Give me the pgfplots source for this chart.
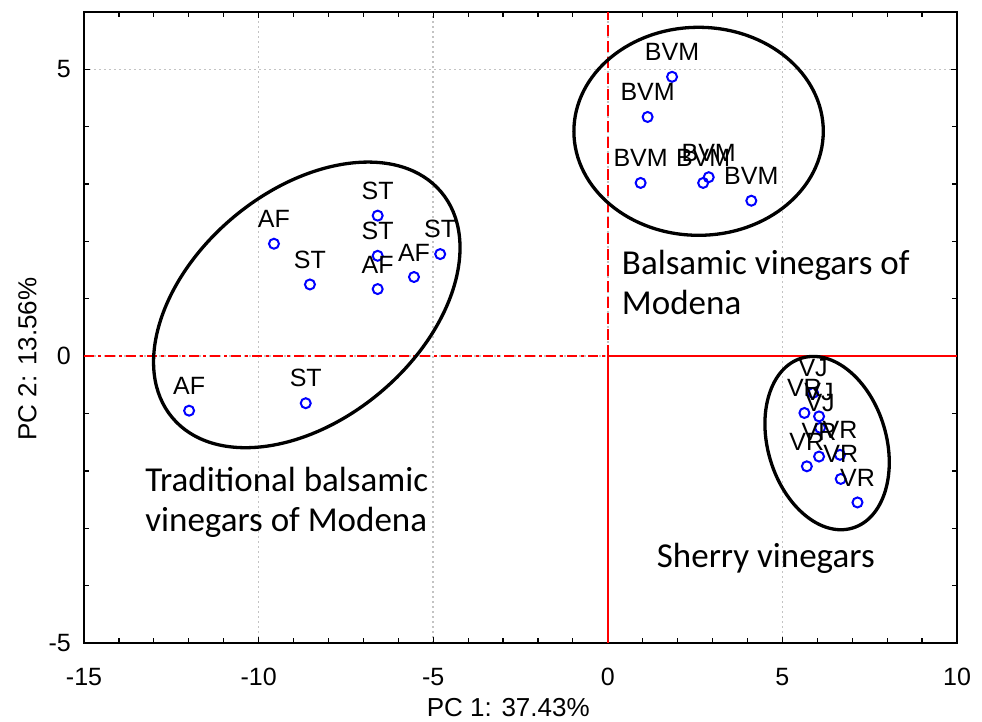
\documentclass[border=0pt]{standalone}
\usepackage{fontspec}
\setmainfont{Liberation Sans}
\newfontfamily\calib{Carlito}
\usepackage{pgfplots}
\pgfplotsset{compat=1.18}
\usepackage{pgfplotstable}
\definecolor{gridgray}{RGB}{195,195,195}
\pgfplotstableread{
x y label
-11.99 -0.95 AF
-8.65 -0.82 ST
-9.56 1.96 AF
-8.53 1.25 ST
-6.59 2.45 ST
-6.59 1.75 ST
-6.59 1.17 AF
-5.55 1.38 AF
-4.80 1.78 ST
1.84 4.87 BVM
1.14 4.17 BVM
0.94 3.02 BVM
2.73 3.02 BVM
2.89 3.12 BVM
4.11 2.71 BVM
5.88 -0.64 VJ
5.63 -0.99 VR
6.05 -1.05 VJ
6.08 -1.25 VJ
6.65 -1.72 VR
6.05 -1.75 VR
5.70 -1.92 VR
6.67 -2.14 VR
7.15 -2.55 VR
}\pts
\begin{document}
\begin{tikzpicture}
\begin{axis}[
  scale only axis, width=873pt, height=631pt,
  xmin=-15, xmax=10, ymin=-5, ymax=6,
  xtick={-15,-10,-5,0,5,10}, xticklabels={-15,-10,-5,0,5,10},
  ytick={-5,0,5}, yticklabels={-5,0,5},
  minor x tick num=4, minor y tick num=4,
  tick align=inside, major tick length=6pt, minor tick length=5pt,
  tick style={black, line width=1.2pt},
  axis line style={line width=2pt},
  grid=major, major grid style={gridgray, dash pattern=on 2pt off 3pt, line width=1.6pt},
  xticklabel style={font=\fontsize{25}{30}\selectfont, inner sep=0pt, anchor=north, yshift=-25pt},
  yticklabel style={font=\fontsize{25}{30}\selectfont, inner sep=0pt, anchor=east, xshift=-13pt},
  xlabel={PC 1: 37.43\%},
  xlabel style={at={(axis description cs:0.486,-0.0872)}, anchor=north, inner sep=0pt, font=\fontsize{26}{30}\selectfont},
  ylabel={PC 2: 13.56\%},
  ylabel style={at={(axis description cs:-0.0756,0.45)}, anchor=north, inner sep=0pt, font=\fontsize{26}{30}\selectfont},
]
\addplot[red, line width=2pt, dash pattern=on 11pt off 5pt] coordinates {(0,0) (0,6)};
\addplot[red, line width=2pt] coordinates {(0,-5) (0,0)};
\addplot[red, line width=2pt, dash pattern=on 10pt off 4pt on 3pt off 4pt] coordinates {(-15,0) (0,0)};
\addplot[red, line width=2pt] coordinates {(0,0) (10,0)};

\draw[black, line width=3.3pt, rotate around={40:(axis cs:-8.62,0.894)}] (axis cs:-8.62,0.894) ellipse [x radius=175.5pt, y radius=114.3pt];
\draw[black, line width=3.3pt] (axis cs:2.60,3.92) ellipse [x radius=124.7pt, y radius=104pt];
\draw[black, line width=3.3pt, rotate around={-73.3:(axis cs:6.28,-1.515)}] (axis cs:6.28,-1.515) ellipse [x radius=88.7pt, y radius=59.2pt];

\addplot[only marks, mark=o, mark size=5pt, blue, mark options={line width=2pt},
  nodes near coords, point meta=explicit symbolic,
  every node near coord/.append style={black, font=\fontsize{25}{30}\selectfont, anchor=south, inner sep=0pt, yshift=15pt}]
  table[x=x, y=y, meta=label] {\pts};

\node[anchor=base west, inner sep=0pt, font=\calib\fontsize{35}{42}\selectfont] at (axis cs:-13.25,-2.36) {Traditional balsamic};
\node[anchor=base west, inner sep=0pt, font=\calib\fontsize{35}{42}\selectfont] at (axis cs:-13.25,-3.05) {vinegars of Modena};
\node[anchor=base west, inner sep=0pt, font=\calib\fontsize{35}{42}\selectfont] at (axis cs:0.40,1.42) {Balsamic vinegars of};
\node[anchor=base west, inner sep=0pt, font=\calib\fontsize{35}{42}\selectfont] at (axis cs:0.40,0.724) {Modena};
\node[anchor=base west, inner sep=0pt, font=\calib\fontsize{35}{42}\selectfont] at (axis cs:1.40,-3.69) {Sherry vinegars};
\end{axis}
\pgfresetboundingbox
\path (current axis.south west) ++(-84pt,-79pt) rectangle ++(982pt,722pt);
\end{tikzpicture}
\end{document}
